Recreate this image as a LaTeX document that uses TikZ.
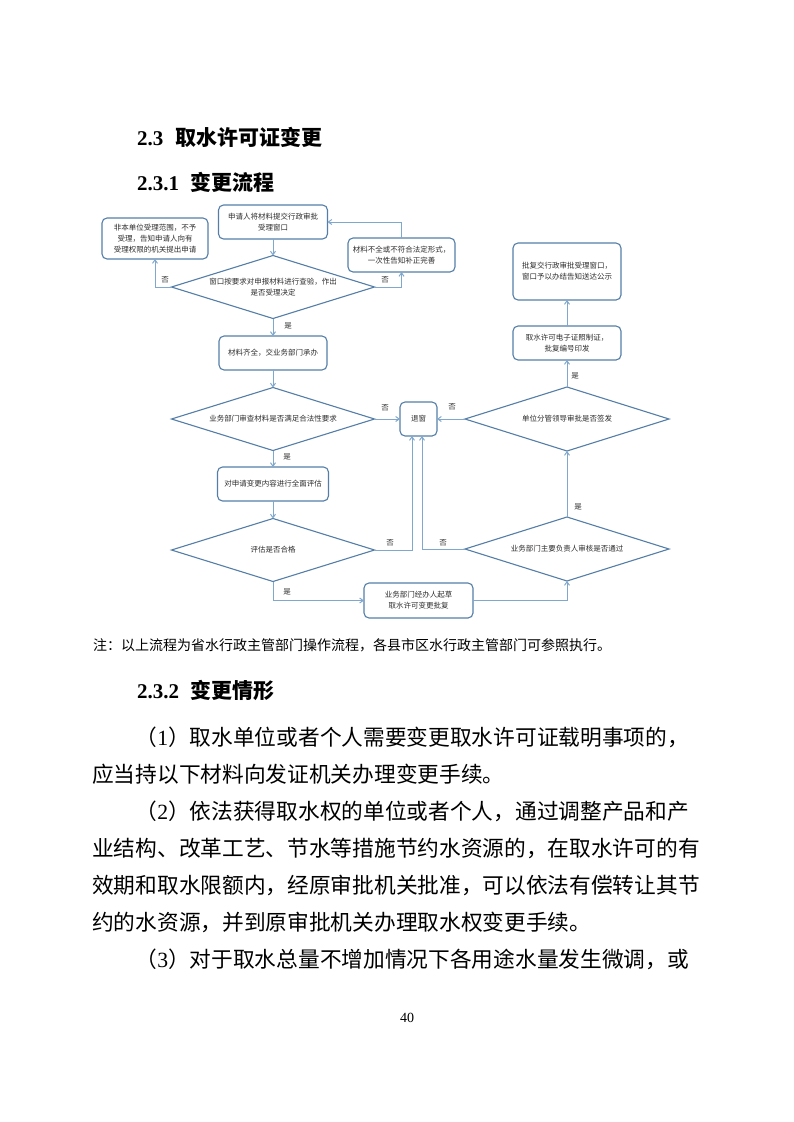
\documentclass[tikz,border=0pt]{standalone}
\usepackage{fontspec}
\setmainfont{Liberation Serif}
\newfontfamily\cjk{Noto Sans CJK SC}
\usetikzlibrary{shapes.geometric,arrows.meta}
\definecolor{boxc}{RGB}{84,126,168}
\definecolor{linec}{RGB}{128,168,205}
\definecolor{txt}{RGB}{45,45,45}
\XeTeXlinebreaklocale "zh"
\XeTeXlinebreakskip=0pt plus 2pt
\newcommand\flowfont{\cjk\fontsize{7.5pt}{11pt}\selectfont}
\newcommand\bodyfont{\cjk\fontsize{21.7pt}{26pt}\selectfont}
\newcommand\headfont{\cjk\bfseries\fontsize{21pt}{25pt}\selectfont}
\newcommand\tm[1]{{\rmfamily #1}}
\begin{document}
\begin{tikzpicture}[x=1pt,y=-1pt,
  fbox/.style={draw=boxc, line width=1.1pt, rounded corners=5pt, align=center,
    font=\flowfont, text=txt, inner sep=0pt, outer sep=0pt},
  dia/.style={diamond, draw=boxc, line width=1.1pt, aspect=3.17, inner sep=0pt,
    outer sep=0pt, minimum width=203pt, minimum height=63pt, align=center,
    font=\flowfont, text=txt},
  lab/.style={font=\flowfont, text=txt, inner sep=0pt},
  arr/.style={draw=linec, line width=1pt, -{Straight Barb[length=3.5pt,width=5pt]}},
  bline/.style={anchor=west, inner sep=0pt, font=\bodyfont, text=black},
  jline/.style={bline, text width=610pt, align=justify},
  head/.style={anchor=west, inner sep=0pt, font=\headfont, text=black}]
\fill[white] (0,0) rectangle (793,1122);
\path[use as bounding box] (0,0) rectangle (793,1122);

% headings
\node[head] (h1) at (137,137) {\textbf{\rmfamily 2.3}\hspace{12pt}取水许可证变更};
\node[head] (h2) at (137,182) {\textbf{\rmfamily 2.3.1}\hspace{11pt}变更流程};

% flowchart boxes
\node[fbox, minimum width=109pt, minimum height=34pt] (A) at (273,222) {申请人将材料提交行政审批\\受理窗口};
\node[fbox, minimum width=106pt, minimum height=41pt] (B) at (155,238.5) {非本单位受理范围，不予\\受理，告知申请人向有\\受理权限的机关提出申请};
\node[fbox, minimum width=107pt, minimum height=34pt] (C) at (401.5,255) {材料不全或不符合法定形式，\\一次性告知补正完善};
\node[dia] (D1) at (273,287) {窗口按要求对申报材料进行查验，作出\\是否受理决定};
\node[fbox, minimum width=108pt, minimum height=34pt] (E) at (273,353) {材料齐全，交业务部门承办};
\node[dia] (D2) at (273,419) {业务部门审查材料是否满足合法性要求};
\node[fbox, minimum width=37pt, minimum height=34pt] (T) at (418.5,419) {退窗};
\node[fbox, minimum width=111pt, minimum height=34pt] (F) at (273,484) {对申请变更内容进行全面评估};
\node[dia] (D3) at (273,550) {评估是否合格};
\node[fbox, minimum width=109pt, minimum height=35pt] (G) at (418.5,600.5) {业务部门经办人起草\\取水许可变更批复};
\node[dia, minimum width=204pt, minimum height=64pt] (D4) at (567,549) {业务部门主要负责人审核是否通过};
\node[dia, minimum width=204pt, minimum height=64pt] (D5) at (567,419) {单位分管领导审批是否签发};
\node[fbox, minimum width=108pt, minimum height=34pt] (H) at (567,343) {取水许可电子证照制证，\\批复编号印发};
\node[fbox, minimum width=108pt, minimum height=57pt] (I) at (567,271.5) {批复交行政审批受理窗口，\\窗口予以办结告知送达公示};

% connectors
\draw[arr] (A.south) -- (D1.north);
\draw[arr] (D1.west) -| (B.south);
\draw[arr] (D1.east) -| (C.south);
\draw[arr] (C.north) |- (A.east);
\draw[arr] (D1.south) -- (E.north);
\draw[arr] (E.south) -- (D2.north);
\draw[arr] (D2.east) -- (T.west);
\draw[arr] (D2.south) -- (F.north);
\draw[arr] (F.south) -- (D3.north);
\draw[arr] (D3.east) -| ([xshift=-6.5pt]T.south);
\draw[arr] (D3.south) |- (G.west);
\draw[arr] (G.east) -| (D4.south);
\draw[arr] (D4.west) -| ([xshift=3.5pt]T.south);
\draw[arr] (D4.north) -- (D5.south);
\draw[arr] (D5.west) -- (T.east);
\draw[arr] (D5.north) -- (H.south);
\draw[arr] (H.north) -- (I.south);

% connector labels
\node[lab] (l1) at (165,280) {否};
\node[lab] (l2) at (385,280) {否};
\node[lab] (l3) at (288,326) {是};
\node[lab] (l4) at (385,408) {否};
\node[lab] (l5) at (287,457) {是};
\node[lab] (l6) at (390,543) {否};
\node[lab] (l7) at (287,592) {是};
\node[lab] (l8) at (443,543) {否};
\node[lab] (l9) at (578,507) {是};
\node[lab] (l10) at (452,407) {否};
\node[lab] (l11) at (575,376) {是};

% note
\node[anchor=west, inner sep=0pt, font=\cjk\fontsize{14pt}{16pt}\selectfont] (note) at (93,645) {注：以上流程为省水行政主管部门操作流程，各县市区水行政主管部门可参照执行。};

\node[head] (h3) at (137,690) {\textbf{\rmfamily 2.3.2}\hspace{11pt}变更情形};

% body
\node[jline] (b1) at (92,737) {\parfillskip=0pt\hspace*{2em}（\tm{1}）取水单位或者个人需要变更取水许可证载明事项的，};
\node[bline] (b2) at (92,774) {应当持以下材料向发证机关办理变更手续。};
\node[jline] (b3) at (92,811) {\parfillskip=0pt\hspace*{2em}（\tm{2}）依法获得取水权的单位或者个人，通过调整产品和产};
\node[jline] (b4) at (92,848) {\parfillskip=0pt 业结构、改革工艺、节水等措施节约水资源的，在取水许可的有};
\node[jline] (b5) at (92,885) {\parfillskip=0pt 效期和取水限额内，经原审批机关批准，可以依法有偿转让其节};
\node[bline] (b6) at (92,922) {约的水资源，并到原审批机关办理取水权变更手续。};
\node[jline] (b7) at (92,959) {\parfillskip=0pt\hspace*{2em}（\tm{3}）对于取水总量不增加情况下各用途水量发生微调，或};

\node[inner sep=0pt, font=\rmfamily\fontsize{14pt}{16pt}\selectfont] (pg) at (407,1018) {40};
\end{tikzpicture}
\end{document}
